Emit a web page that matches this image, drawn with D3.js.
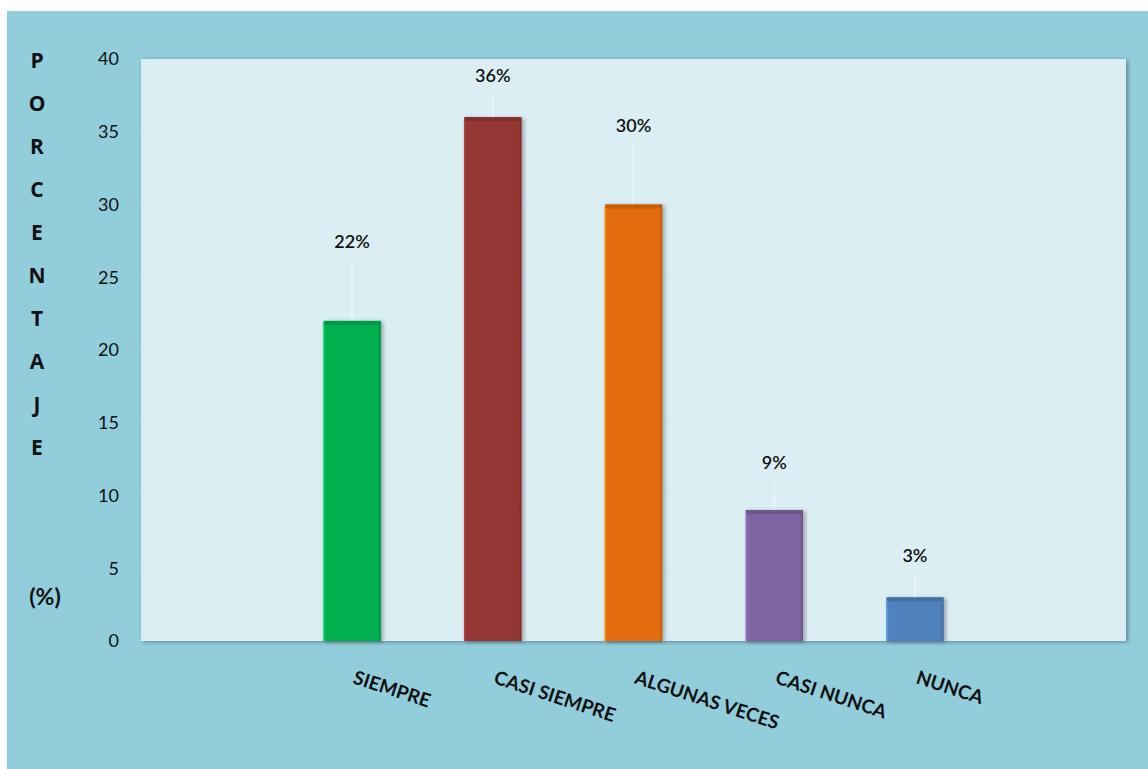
<!DOCTYPE html>
<html><head><meta charset="utf-8">
<script src="https://cdn.jsdelivr.net/npm/d3@7"></script>
<style>body{margin:0;background:#fff}svg{display:block}</style>
</head><body>
<svg id="c" width="1148" height="769"></svg>
<script>
const categories = ["SIEMPRE", "CASI SIEMPRE", "ALGUNAS VECES", "CASI NUNCA", "NUNCA"];
const values = [22, 36, 30, 9, 3];
const valueLabels = ["22%", "36%", "30%", "9%", "3%"];
const barColors = ["#00B050", "#953735", "#E46C0A", "#8064A2", "#4F81BD"];
const yTicks = [0, 5, 10, 15, 20, 25, 30, 35, 40];
const axisTitleLetters = ["P","O","R","C","E","N","T","A","J","E"];

const svg = d3.select("#c");
const W = 1148, H = 769;
const plot = {x0: 141, x1: 1126, y0: 59, y1: 641};
const step = (plot.x1 - plot.x0) / 7;

svg.append("rect").attr("x", 7).attr("y", 11).attr("width", W - 7).attr("height", H - 11).attr("fill", "#92CDDC");

const defs = svg.append("defs");
const sh = defs.append("filter").attr("id", "sh").attr("x", "-20%").attr("y", "-20%").attr("width", "140%").attr("height", "140%");
sh.append("feGaussianBlur").attr("in", "SourceAlpha").attr("stdDeviation", 2);
sh.append("feOffset").attr("dx", 2).attr("dy", 1).attr("result", "b");
sh.append("feComponentTransfer").append("feFuncA").attr("type", "linear").attr("slope", 0.35);
const m = sh.append("feMerge"); m.append("feMergeNode"); m.append("feMergeNode").attr("in", "SourceGraphic");

svg.append("rect").attr("x", plot.x0).attr("y", plot.y0).attr("width", plot.x1 - plot.x0).attr("height", plot.y1 - plot.y0)
  .attr("fill", "#DBEEF4").attr("filter", "url(#sh)");

const y = d3.scaleLinear().domain([0, 40]).range([plot.y1, plot.y0]);
const x = d3.scaleBand().domain(categories).range([plot.x0 + step, plot.x1 - step]).paddingInner(0.59).paddingOuter(0.295);

// gridlines
svg.append("g").selectAll("line").data(yTicks.filter(d => d > 0 && d < 40)).join("line")
  .attr("x1", plot.x0).attr("x2", plot.x1).attr("y1", d => y(d)).attr("y2", d => y(d))
  .attr("stroke", "#D5EAF1").attr("stroke-width", 1);

// y axis
const yAxis = svg.append("g").attr("transform", `translate(${plot.x0},0)`)
  .call(d3.axisLeft(y).tickValues(yTicks).tickSize(0).tickPadding(22));
yAxis.select(".domain").remove();
yAxis.selectAll("text").attr("font-family", "Lato, 'Open Sans', sans-serif").attr("font-size", 18).attr("fill", "#111");

// gradients for bars
barColors.forEach((c, i) => {
  const g = defs.append("linearGradient").attr("id", "g" + i).attr("x1", 0).attr("x2", 1).attr("y1", 0).attr("y2", 0);
  const lc = d3.color(c).brighter(0.6), dc = d3.color(c).darker(0.5);
  g.append("stop").attr("offset", "0%").attr("stop-color", lc);
  g.append("stop").attr("offset", "5%").attr("stop-color", c);
  g.append("stop").attr("offset", "94%").attr("stop-color", c);
  g.append("stop").attr("offset", "100%").attr("stop-color", dc);
});

const bars = svg.append("g").selectAll("g").data(categories).join("g");
bars.append("rect")
  .attr("x", d => x(d)).attr("width", x.bandwidth())
  .attr("y", (d, i) => y(values[i])).attr("height", (d, i) => y(0) - y(values[i]))
  .attr("fill", (d, i) => `url(#g${i})`).attr("filter", "url(#sh)");
bars.append("rect")
  .attr("x", d => x(d) + 1).attr("width", x.bandwidth() - 2)
  .attr("y", (d, i) => y(values[i])).attr("height", 4)
  .attr("fill", (d, i) => d3.color(barColors[i]).darker(0.4));

// data labels with leader lines
const labelLift = [80, 42, 80, 48, 42];
bars.append("line")
  .attr("x1", d => x(d) + x.bandwidth() / 2).attr("x2", d => x(d) + x.bandwidth() / 2)
  .attr("y1", (d, i) => y(values[i]) - labelLift[i] + 20).attr("y2", (d, i) => y(values[i]))
  .attr("stroke", "#ffffff").attr("stroke-opacity", 0.7).attr("stroke-width", 1);
bars.append("text")
  .attr("x", d => x(d) + x.bandwidth() / 2).attr("y", (d, i) => y(values[i]) - labelLift[i] + 7)
  .attr("text-anchor", "middle").attr("font-family", "Lato, 'Open Sans', sans-serif").attr("font-size", 18)
  .attr("font-weight", 600).attr("fill", "#111").text((d, i) => valueLabels[i]);

// category labels
svg.append("g").selectAll("text").data(categories).join("text")
  .attr("transform", d => `translate(${x(d) + x.bandwidth() / 2},683) rotate(18)`)
  .attr("font-family", "Lato, 'Open Sans', sans-serif").attr("font-weight", "bold").attr("font-size", 19)
  .attr("fill", "#111").text(d => d);

// axis title
svg.append("g").selectAll("text").data(axisTitleLetters).join("text")
  .attr("x", 37).attr("y", (d, i) => 68 + i * 43)
  .attr("text-anchor", "middle").attr("font-family", "'Open Sans', Lato, sans-serif").attr("font-weight", "bold")
  .attr("font-size", 21).attr("fill", "#111").text(d => d);
svg.append("text").attr("x", 45).attr("y", 605).attr("text-anchor", "middle")
  .attr("font-family", "Lato, 'Open Sans', sans-serif").attr("font-weight", "bold").attr("font-size", 23)
  .attr("fill", "#111").text("(%)");
</script>
</body></html>
